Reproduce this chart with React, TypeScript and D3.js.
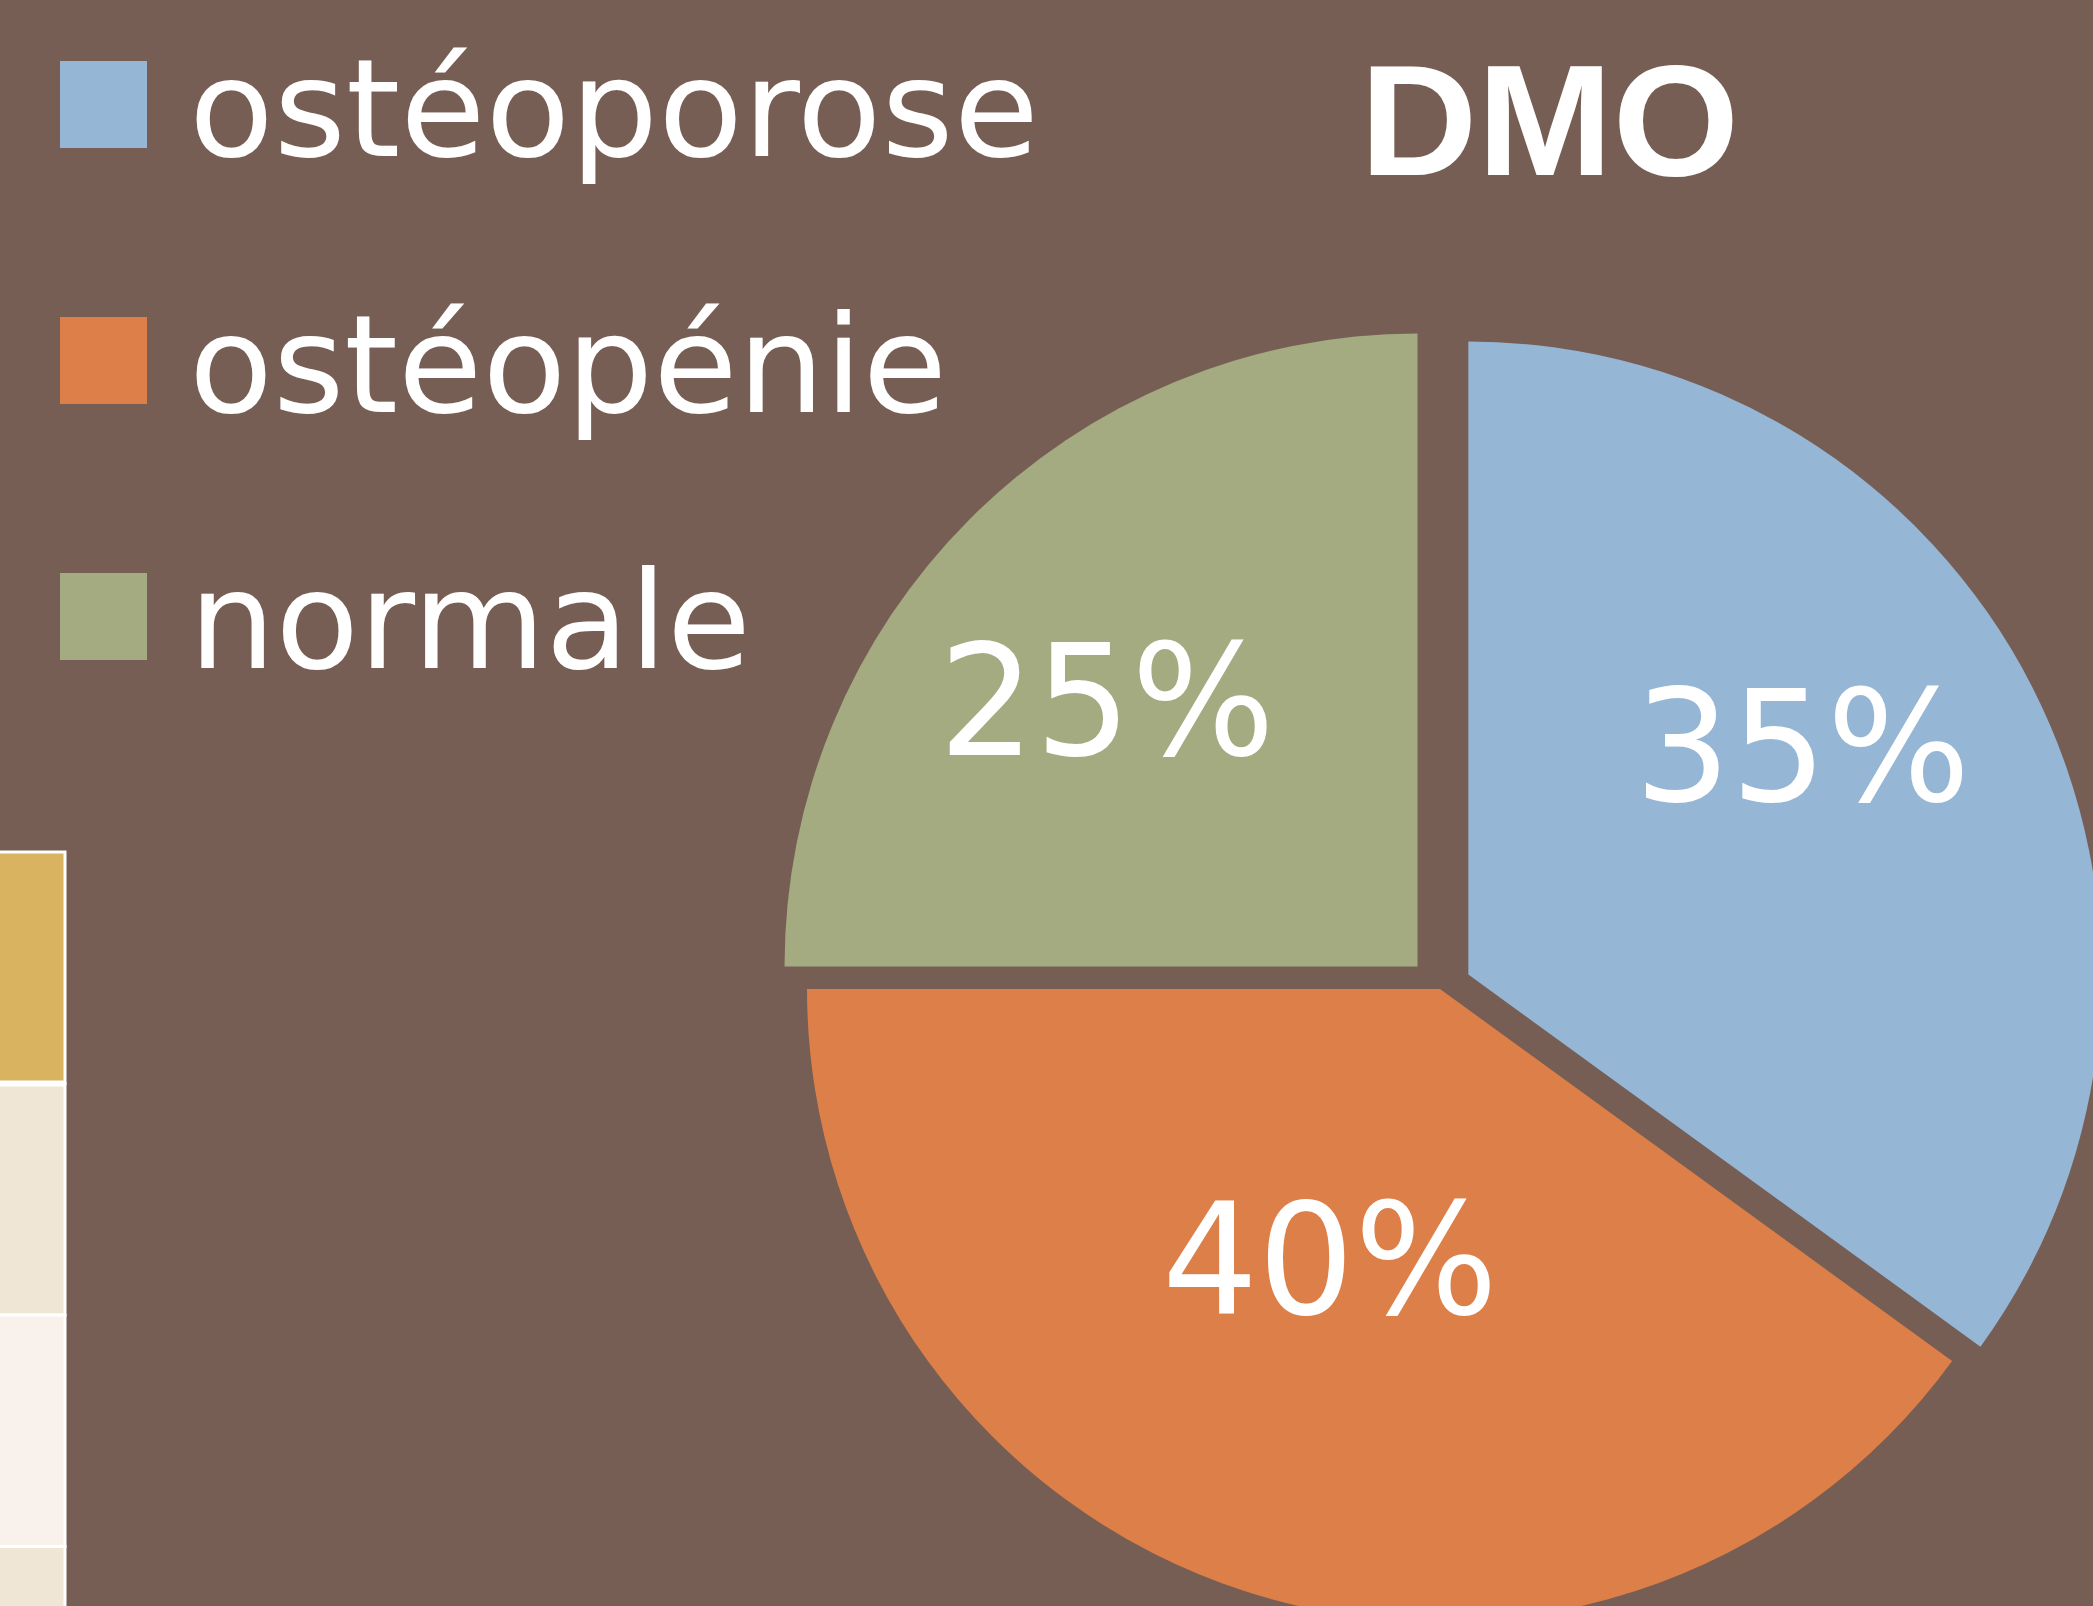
import React from "react";
import * as d3 from "d3";

const categories = ["ostéoporose", "ostéopénie", "normale"];
const values = [35, 40, 25];
const labels = ["35%", "40%", "25%"];
const sliceColors = ["#95B6D4", "#DD7F48", "#A4AB81"];
const title = "DMO";

const stripColors = ["#D9B35F", "#F0E6D5", "#F9F1EC", "#F0E6D5"];

const W = 2093;
const H = 1606;
const BG = "#775E54";

export default function App() {
  const cx = 1440;
  const cy = 989;
  const R = 633;
  const explode = [31.8, 0, 31.8];
  // label placement: fraction along the slice angle and fraction of radius
  const labelAt = [
    { t: 0.44, r: 0.641 },
    { t: 0.53, r: 0.458 },
    { t: 0.453, r: 0.648 },
  ];
  const labelFont = 155;

  const pie = d3
    .pie<number>()
    .sort(null)
    .startAngle(0)
    .endAngle(2 * Math.PI)
    .value((d) => d);
  const arcs = pie(values);
  const arc = d3.arc<d3.PieArcDatum<number>>().innerRadius(0).outerRadius(R);

  const legendY = d3.scalePoint<string>().domain(categories).range([61, 573]);
  const sq = 87;
  const legendWidths = [850, 758, 562];

  const rowY = d3
    .scaleLinear()
    .domain([0, stripColors.length])
    .range([852, 852 + 231.5 * stripColors.length]);

  return (
    <svg
      width={W}
      height={H}
      style={{ position: "absolute", left: 0, top: 0, display: "block" }}
    >
      <rect x={0} y={0} width={W} height={H} fill={BG} />

      {/* left table strip */}
      <g>
        {stripColors.map((c, i) => (
          <rect
            key={i}
            x={-10}
            y={rowY(i)}
            width={75}
            height={rowY(i + 1) - rowY(i)}
            fill={c}
            stroke="#FFFFFF"
            strokeWidth={3}
          />
        ))}
        <line x1={-10} x2={65} y1={rowY(1)} y2={rowY(1)} stroke="#FFFFFF" strokeWidth={6} />
      </g>

      {/* pie */}
      <g>
        {arcs.map((a, i) => {
          const mid = (a.startAngle + a.endAngle) / 2;
          const ox = cx + explode[i] * Math.sin(mid);
          const oy = cy - explode[i] * Math.cos(mid);
          const la = a.startAngle + labelAt[i].t * (a.endAngle - a.startAngle);
          const lr = labelAt[i].r * R;
          const lx = lr * Math.sin(la);
          const ly = -lr * Math.cos(la);
          return (
            <g key={i} transform={`translate(${ox},${oy})`}>
              <path d={arc(a) || ""} fill={sliceColors[i]} />
              <text
                x={lx}
                y={ly + labelFont * 0.364}
                textAnchor="middle"
                fill="#FFFFFF"
                fontFamily="'DejaVu Sans', sans-serif"
                fontSize={labelFont}
                textLength={336}
                lengthAdjust="spacingAndGlyphs"
              >
                {labels[i]}
              </text>
            </g>
          );
        })}
      </g>

      {/* legend */}
      <g>
        {categories.map((c, i) => {
          const y = legendY(c) as number;
          return (
            <g key={c}>
              <rect x={60} y={y} width={sq} height={sq} fill={sliceColors[i]} />
              <text
                x={189}
                y={y + 95}
                fill="#FFFFFF"
                fontFamily="'DejaVu Sans', sans-serif"
                fontSize={136}
                textLength={legendWidths[i]}
                lengthAdjust="spacingAndGlyphs"
              >
                {c}
              </text>
            </g>
          );
        })}
      </g>

      {/* title */}
      <text
        x={1360}
        y={175}
        fill="#FFFFFF"
        fontFamily="'Liberation Sans', Arial, sans-serif"
        fontWeight="bold"
        fontSize={158}
        textLength={379}
        lengthAdjust="spacingAndGlyphs"
      >
        {title}
      </text>
    </svg>
  );
}
